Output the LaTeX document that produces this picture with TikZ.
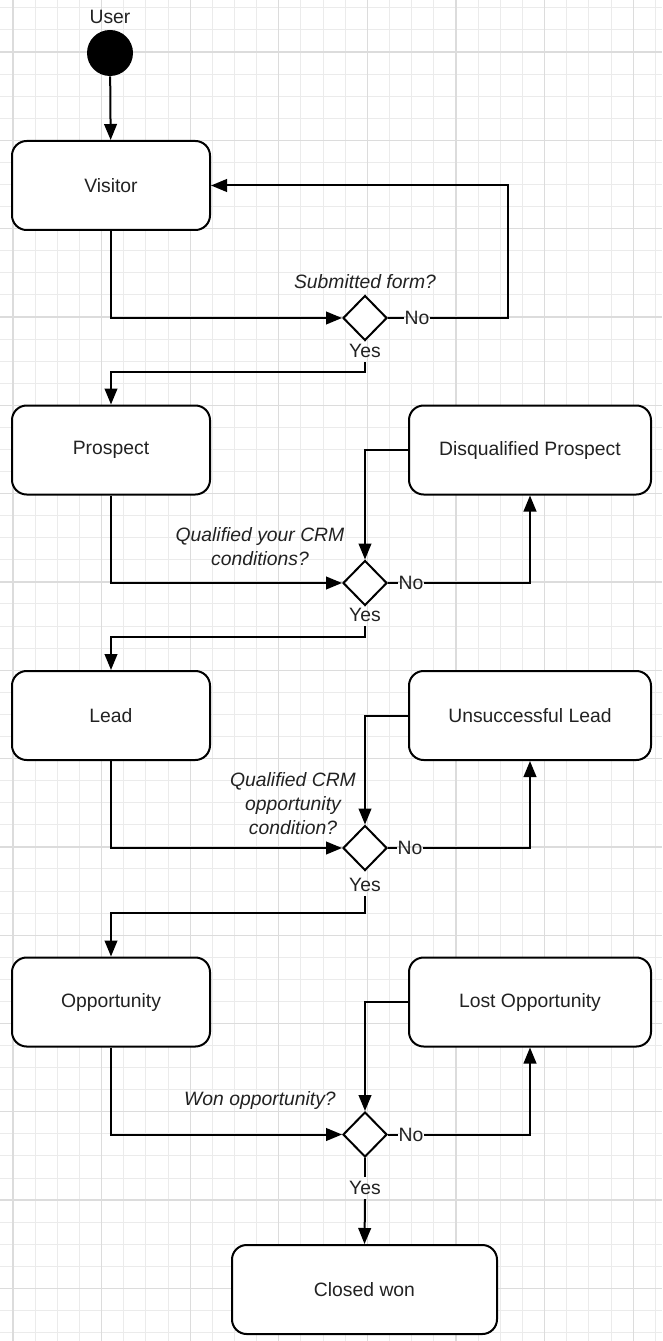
\documentclass[tikz,border=0pt]{standalone}
\usepackage{fontspec}
\setmainfont{Liberation Sans}
\usepackage{xcolor}
\usetikzlibrary{arrows.meta}
\usetikzlibrary{shapes.geometric}

\definecolor{minorline}{HTML}{EBEBEB}
\definecolor{majorline}{HTML}{DCDCDC}
\definecolor{inktext}{HTML}{222222}

\tikzset{
    statebox/.style={draw, rounded corners=11pt, line width=1.5pt, fill=white,
        minimum width=148.5pt, minimum height=66.75pt, inner sep=0pt, text=inktext},
    widebox/.style={statebox, minimum width=181.5pt},
    choice/.style={draw, diamond, line width=1.5pt, fill=white,
        minimum width=33pt, minimum height=33.75pt, inner sep=0pt},
    branch/.style={inner xsep=0.5pt, inner ysep=3pt, text=inktext},
    question/.style={align=center, font={\fontsize{14.5}{18}\selectfont\itshape}, text=inktext},
    flow/.style={line width=1.5pt, -{Triangle[length=12pt,width=9.5pt]}},
    plainflow/.style={line width=1.5pt}
}

\begin{document}
\begin{tikzpicture}[x=0.75pt, y=-0.75pt, font=\fontsize{14.5}{18}\selectfont]
    % Page area 662 x 1341 (px units, y downward)
    \useasboundingbox (0,0) rectangle (662,1341);
    \fill[white] (0,0) rectangle (662,1341);

    % Background grid: minor lines, then every fourth line darker
    \foreach \k in {0,...,29} \draw[minorline, line width=0.75pt] ({13+22.15*\k},0) -- ({13+22.15*\k},1341);
    \foreach \k in {0,...,60} \draw[minorline, line width=0.75pt] (0,{7.8+22.08*\k}) -- (662,{7.8+22.08*\k});
    \foreach \k in {0,4,...,28} \draw[majorline, line width=1pt] ({13+22.15*\k},0) -- ({13+22.15*\k},1341);
    \foreach \k in {2,6,...,58} \draw[majorline, line width=1pt] (0,{7.8+22.08*\k}) -- (662,{7.8+22.08*\k});

    % Start point
    \node[text=inktext] (userlabel) at (110,17) {User};
    \node[circle, fill=black, minimum size=34.5pt, inner sep=0pt] (user) at (110,53) {};

    % States
    \node[statebox] (visitor) at (111,185.5) {Visitor};
    \node[statebox] (prospect) at (111,450) {Prospect};
    \node[widebox] (disqualified) at (530,450) {Disqualified Prospect};
    \node[statebox] (lead) at (111,715.5) {Lead};
    \node[widebox] (unsuccessful) at (530,715.5) {Unsuccessful Lead};
    \node[statebox] (opportunity) at (111,1002) {Opportunity};
    \node[widebox] (lost) at (530,1002) {Lost Opportunity};
    \node[statebox, minimum width=198.75pt] (closedwon) at (364.5,1289.5) {Closed won};

    % Decisions
    \node[choice] (form) at (365,318) {};
    \node[question] (formq) at (365,282) {Submitted form?};
    \node[branch] (formno) at (417,318) {No};
    \node[branch] (formyes) at (365,351) {Yes};

    \node[choice] (crm) at (365,583) {};
    \node[question] (crmq) at (260,547) {Qualified your CRM\\conditions?};
    \node[branch] (crmno) at (411,583) {No};
    \node[branch] (crmyes) at (365,615) {Yes};

    \node[choice] (opp) at (365,848) {};
    \node[question] (oppq) at (293,804) {Qualified CRM\\opportunity\\condition?};
    \node[branch] (oppno) at (410,848) {No};
    \node[branch] (oppyes) at (365,885) {Yes};

    \node[choice] (won) at (365,1134.5) {};
    \node[question] (wonq) at (260,1100) {Won opportunity?};
    \node[branch] (wonno) at (411,1134.5) {No};
    \node[branch] (wonyes) at (365,1188) {Yes};

    % Bends
    \coordinate (formback) at (508,185.5);
    \coordinate (formturn) at (365,372);
    \coordinate (crmturn) at (365,637);
    \coordinate (oppturn) at (365,913);

    % Connectors
    \draw[flow] (user) -- (visitor);
    \draw[flow] (visitor.south) |- (form.west);
    \draw[plainflow] (form.east) -- (formno.west);
    \draw[flow] (formno.east) -| (formback) -- (visitor.east);
    \draw[flow] (formyes.south) -- (formturn) -| (prospect.north);

    \draw[flow] (prospect.south) |- (crm.west);
    \draw[flow] (disqualified.west) -| (crm.north);
    \draw[plainflow] (crm.east) -- (crmno.west);
    \draw[flow] (crmno.east) -| (disqualified.south);
    \draw[flow] (crmyes.south) -- (crmturn) -| (lead.north);

    \draw[flow] (lead.south) |- (opp.west);
    \draw[flow] (unsuccessful.west) -| (opp.north);
    \draw[plainflow] (opp.east) -- (oppno.west);
    \draw[flow] (oppno.east) -| (unsuccessful.south);
    \draw[flow] (oppyes.south) -- (oppturn) -| (opportunity.north);

    \draw[flow] (opportunity.south) |- (won.west);
    \draw[flow] (lost.west) -| (won.north);
    \draw[plainflow] (won.east) -- (wonno.west);
    \draw[flow] (wonno.east) -| (lost.south);
    \draw[plainflow] (won.south) -- (wonyes.north);
    \draw[flow] (wonyes.south) -- (closedwon.north);
\end{tikzpicture}
\end{document}
